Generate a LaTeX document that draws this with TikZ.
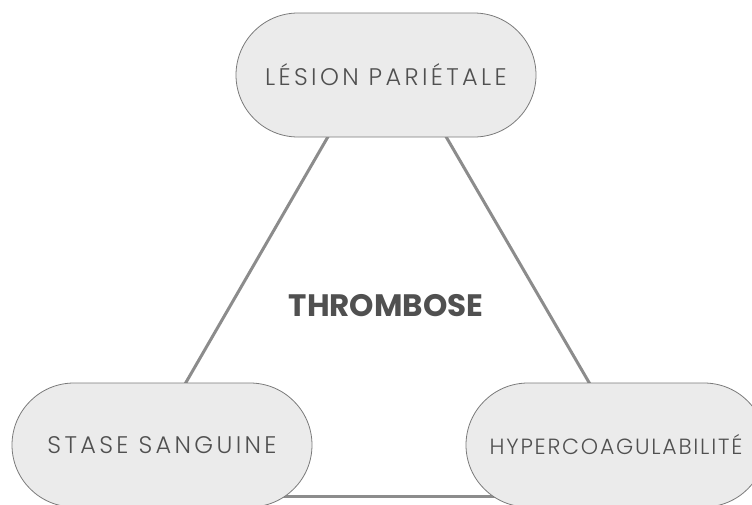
\documentclass[tikz,border=0pt]{standalone}
\usepackage{fontspec}
\setmainfont{Poppins}[UprightFont=* Light, BoldFont=* Bold]
\usetikzlibrary{shapes.misc,backgrounds,calc}
\definecolor{pillfill}{HTML}{EBEBEB}
\definecolor{pillborder}{HTML}{7A7A7A}
\definecolor{linkgray}{HTML}{8C8C8C}
\definecolor{txtgray}{HTML}{505050}
\tikzset{
  pill/.style={rounded rectangle, draw=pillborder, fill=pillfill, line width=0.8pt,
    minimum width=300pt, minimum height=124pt, inner sep=0pt, text=txtgray,
    font=\fontsize{24}{26}\selectfont\addfontfeatures{LetterSpace=14}},
  link/.style={draw=linkgray, line width=3pt},
  title/.style={text=txtgray, font=\bfseries\fontsize{31}{33}\selectfont}
}
\begin{document}
\begin{tikzpicture}[x=1pt,y=-1pt]
\useasboundingbox (0,0) rectangle (752,504);
\node[pill] (top) at (386,75) {LÉSION PARIÉTALE};
\node[pill] (left) at (162,445) {STASE SANGUINE};
\node[pill, font=\fontsize{22}{24}\selectfont\addfontfeatures{LetterSpace=8}] (right) at (616,445) {HYPERCOAGULABILITÉ};
\node[title] (center) at (386,306) {THROMBOSE};
\begin{scope}[on background layer]
  \draw[link] ($(top.center)+(-53,53)$) -- ($(left.center)+(19,-54)$);
  \draw[link] ($(top.center)+(55,53)$) -- ($(right.center)+(-22,-54)$);
  \draw[link] ($(left.center)+(120,51)$) -- ($(right.center)+(-120,51)$);
\end{scope}
\end{tikzpicture}
\end{document}
